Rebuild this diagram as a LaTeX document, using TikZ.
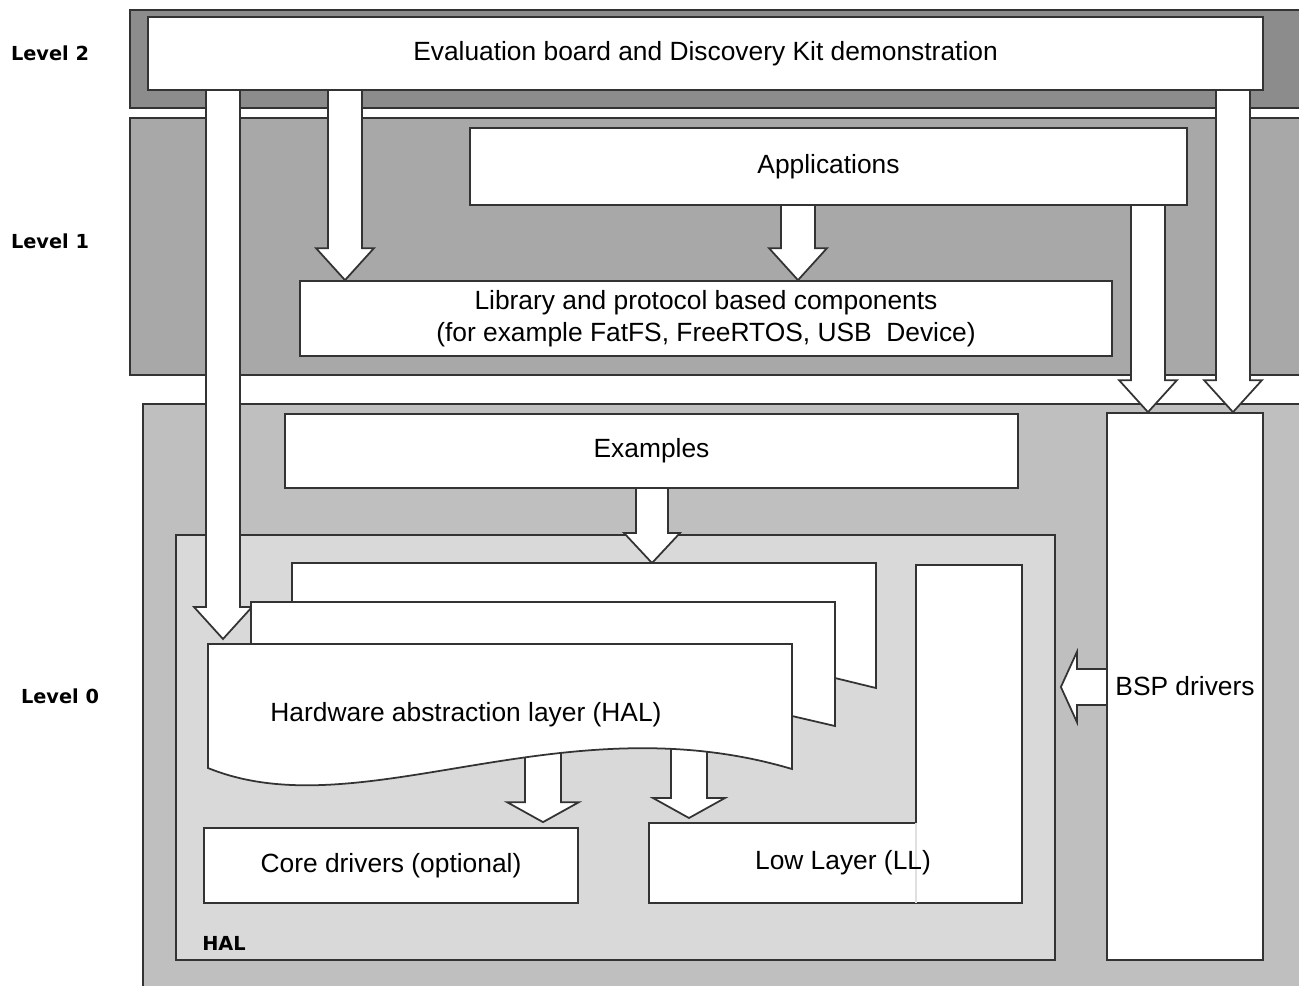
\documentclass[tikz,border=0pt]{standalone}
\usepackage{fontspec}
\setmainfont{Liberation Sans}
\newfontfamily\levelfont{DejaVu Sans}
\usetikzlibrary{calc,fit}

\pgfdeclarelayer{bands}
\pgfdeclarelayer{arrows}
\pgfsetlayers{bands,arrows,main}

\definecolor{lvltwo}{HTML}{8C8C8C}
\definecolor{lvlone}{HTML}{A8A8A8}
\definecolor{lvlzero}{HTML}{BFBFBF}
\definecolor{halgray}{HTML}{D9D9D9}

\tikzset{
    box/.style={draw=black!80, line width=1pt, fill=white, inner sep=0pt},
    band/.style={draw=black!80, line width=1pt},
    arrowbody/.style={draw=black!80, line width=1pt, fill=white, line join=miter},
    levellabel/.style={font=\levelfont\bfseries\fontsize{11}{13}\selectfont},
    boxtext/.style={align=center, inner sep=0pt, font=\fontsize{15}{18}\selectfont},
}

% shaft half width, head half width, head length, from, to
\newcommand{\blockarrow}[5]{%
    \coordinate (ba-s) at (#4);
    \coordinate (ba-t) at (#5);
    \coordinate (ba-h) at ($(ba-t)!#3!(ba-s)$);
    \draw[arrowbody] ($(ba-s)!#1!90:(ba-t)$) -- ($(ba-h)!#1!90:(ba-t)$) -- ($(ba-h)!#2!90:(ba-t)$)
        -- (ba-t) -- ($(ba-h)!#2!-90:(ba-t)$) -- ($(ba-h)!#1!-90:(ba-t)$) -- ($(ba-s)!#1!-90:(ba-t)$) -- cycle;
}

\begin{document}
\begin{tikzpicture}[x=0.02cm, y=-0.02cm]
    \useasboundingbox (0,0) rectangle (1299,985);

    % levels
    \begin{pgfonlayer}{bands}
        \draw[band, fill=lvltwo] (130,10) rectangle (1320,108);
        \draw[band, fill=lvlone] (130,118) rectangle (1320,375);
        \draw[band, fill=lvlzero] (143,404) rectangle (1320,1000);
        \node[band, fill=halgray, inner sep=0pt, fit={(176,535)(1055,960)}] (hal) {};
    \end{pgfonlayer}

    \node[levellabel] (lvl2) at (50,53) {Level 2};
    \node[levellabel] (lvl1) at (50,241) {Level 1};
    \node[levellabel] (lvl0) at (60,696) {Level 0};
    \node[levellabel] (hallabel) at (224,943) {HAL};

    % boxes
    \node[box, fit={(148,17)(1263,90)}] (eval) {};
    \node[boxtext] (evaltext) at (eval.center) {Evaluation board and Discovery Kit demonstration};
    \node[box, fit={(470,128)(1187,205)}] (apps) {};
    \node[boxtext] (appstext) at (apps.center) {Applications};
    \node[box, fit={(300,281)(1112,356)}] (lib) {};
    \node[boxtext] (libtext) at (lib.center) {Library and protocol based components\\(for example FatFS, FreeRTOS, USB\ \ Device)};
    \node[box, fit={(285,414)(1018,488)}] (examples) {};
    \node[boxtext] (examplestext) at (examples.center) {Examples};
    \node[box, fit={(1107,413)(1263,960)}] (bsp) {};
    \node[boxtext] (bsptext) at (bsp.center) {BSP drivers};

    % HAL pages
    \draw[box] (292,563) -- (876,563) -- (876,688) -- (835,678) -- (292,678) -- cycle;
    \draw[box] (251,602) -- (835,602) -- (835,726) -- (792,716) -- (251,716) -- cycle;
    \draw[box] (208,644) -- (792,644) -- (792,769) .. controls (560,700) and (360,830) .. (208,768) -- cycle;
    \coordinate (halpage) at (208,644);
    \node[boxtext] (haltext) at (466,715) {Hardware abstraction layer (HAL)};

    \node[box, fit={(204,828)(578,903)}] (core) {};
    \node[boxtext] (coretext) at (core.center) {Core drivers (optional)};

    \draw[box] (649,823) -- (916,823) -- (916,565) -- (1022,565) -- (1022,903) -- (649,903) -- cycle;
    \draw[black!12, line width=1pt] (916,823) -- (916,903);
    \node[boxtext] (ll) at (843,863) {Low Layer (LL)};
    \coordinate (lltop) at (649,823);

    % arrows
    \begin{pgfonlayer}{arrows}
        \blockarrow{0.34cm}{0.58cm}{0.64cm}{223,0 |- eval.center}{$(223,0 |- halpage)+(0,-5)$}
        \blockarrow{0.34cm}{0.58cm}{0.64cm}{345,0 |- eval.center}{345,0 |- lib.north}
        \blockarrow{0.34cm}{0.58cm}{0.64cm}{798,0 |- apps.center}{798,0 |- lib.north}
        \blockarrow{0.34cm}{0.58cm}{0.64cm}{1148,0 |- apps.center}{1148,0 |- bsp.north}
        \blockarrow{0.34cm}{0.58cm}{0.64cm}{1233,0 |- eval.center}{1233,0 |- bsp.north}
        \blockarrow{0.32cm}{0.56cm}{0.60cm}{652,0 |- examples.center}{652,563}
        \blockarrow{0.36cm}{0.72cm}{0.40cm}{543,0 |- haltext.center}{$(543,0 |- core.north)+(0,-5)$}
        \blockarrow{0.36cm}{0.72cm}{0.40cm}{689,0 |- haltext.center}{$(689,0 |- lltop)+(0,-5)$}
        \blockarrow{0.36cm}{0.70cm}{0.32cm}{bsp.center |- 0,687}{$(hal.east |- 0,687)+(5,0)$}
    \end{pgfonlayer}
\end{tikzpicture}
\end{document}
